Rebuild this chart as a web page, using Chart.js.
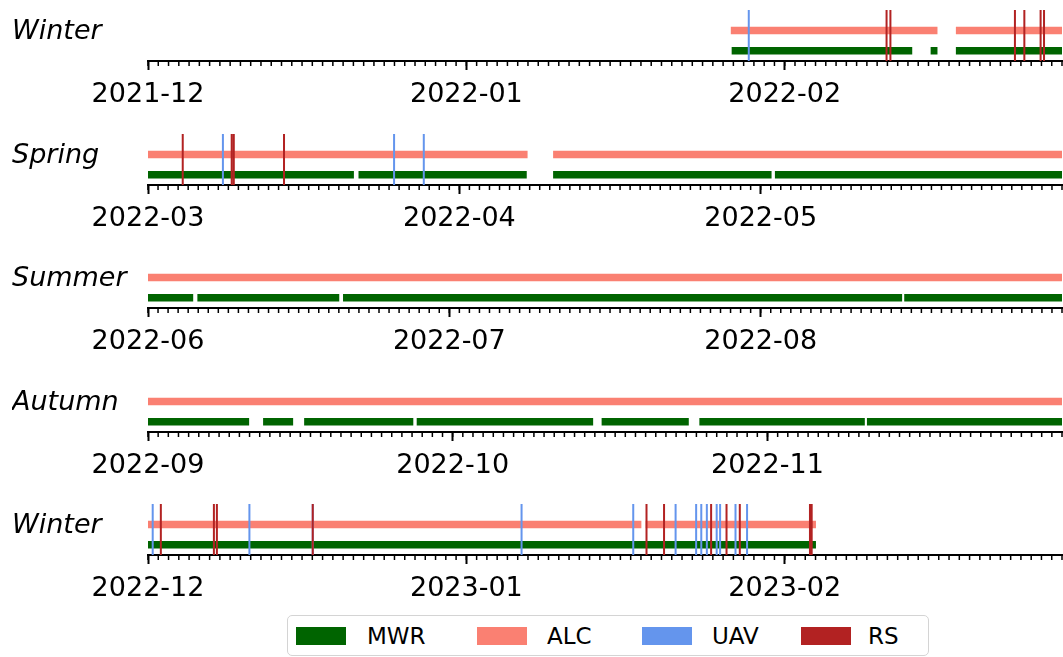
<!DOCTYPE html>
<html>
<head>
<meta charset="utf-8">
<script src="https://cdn.jsdelivr.net/npm/chart.js@4"></script>
<style>
  body { margin: 0; background: #fff; font-family: 'DejaVu Sans', sans-serif; }
  #page { position: relative; width: 1063px; height: 657px; overflow: hidden; }
  #page canvas { position: absolute; left: 0; }
  #legend { position: absolute; left: 287px; top: 615px; width: 640px; height: 39px;
            border: 1.5px solid #d4d4d4; border-radius: 5px; background: #fff; z-index: 2; }
  .patch { position: absolute; top: 11px; width: 50px; height: 18px; }
  .lbl { position: absolute; top: 0; line-height: 41px; font-size: 23px; color: #000; }
</style>
</head>
<body>
<div id="page">
  <canvas id="row0" width="1063" height="123" style="top:0px"></canvas>
  <canvas id="row1" width="1063" height="123" style="top:124px"></canvas>
  <canvas id="row2" width="1063" height="123" style="top:247px"></canvas>
  <canvas id="row3" width="1063" height="123" style="top:371px"></canvas>
  <canvas id="row4" width="1063" height="123" style="top:494px"></canvas>
  <div id="legend">
    <span class="patch" style="left:8px;background:#006400"></span><span class="lbl" style="left:79px">MWR</span>
    <span class="patch" style="left:189px;background:#FA8072"></span><span class="lbl" style="left:259px">ALC</span>
    <span class="patch" style="left:354px;background:#6495ED"></span><span class="lbl" style="left:424px">UAV</span>
    <span class="patch" style="left:513px;background:#B22222"></span><span class="lbl" style="left:580px">RS</span>
  </div>
</div>
<script>
// saisons (une ligne par saison)
const seasonNames = ['Winter', 'Spring', 'Summer', 'Autumn', 'Winter'];
const seasonStart = ['2021-12-01', '2022-03-01', '2022-06-01', '2022-09-01', '2022-12-01'];
const seasonEnd   = ['2022-02-28', '2022-05-31', '2022-08-31', '2022-11-30', '2023-02-28'];
const monthTicks = [
  ['2021-12', '2022-01', '2022-02'],
  ['2022-03', '2022-04', '2022-05'],
  ['2022-06', '2022-07', '2022-08'],
  ['2022-09', '2022-10', '2022-11'],
  ['2022-12', '2023-01', '2023-02']
];

// periodes de mesure [debut, fin] ('YYYY-MM-DD HH')
const mwrRuns = [
  [['2022-01-26 20', '2022-02-13 10'], ['2022-02-15 05', '2022-02-15 21'], ['2022-02-17 16', '2022-02-28 00']],
  [['2022-03-01 00', '2022-03-21 12'], ['2022-03-21 23', '2022-04-07 17'], ['2022-04-10 08', '2022-05-02 02'], ['2022-05-02 10', '2022-05-31 00']],
  [['2022-06-01 00', '2022-06-05 12'], ['2022-06-05 22', '2022-06-20 01'], ['2022-06-20 10', '2022-08-15 02'], ['2022-08-15 07', '2022-08-31 00']],
  [['2022-09-01 00', '2022-09-10 23'], ['2022-09-12 08', '2022-09-15 07'], ['2022-09-16 09', '2022-09-27 03'], ['2022-09-27 11', '2022-10-14 20'],
   ['2022-10-15 16', '2022-10-24 06'], ['2022-10-25 07', '2022-11-10 14'], ['2022-11-10 19', '2022-11-30 00']],
  [['2022-12-01 00', '2023-02-04 01']]
];
const alcRuns = [
  [['2022-01-26 18', '2022-02-15 21'], ['2022-02-17 16', '2022-02-28 00']],
  [['2022-03-01 00', '2022-04-07 19'], ['2022-04-10 08', '2022-05-31 00']],
  [['2022-06-01 00', '2022-08-31 00']],
  [['2022-09-01 00', '2022-11-30 00']],
  [['2022-12-01 00', '2023-01-18 01'], ['2023-01-18 11', '2023-02-04 01']]
];
// lancements ponctuels
const uavFlights = [
  ['2022-01-28 12'],
  ['2022-03-08 11', '2022-03-25 12', '2022-03-28 11'],
  [],
  [],
  ['2022-12-01 11', '2022-12-10 21', '2022-12-17 01', '2023-01-06 09', '2023-01-17 06', '2023-01-21 09', '2023-01-23 09',
   '2023-01-23 21', '2023-01-24 10', '2023-01-25 09', '2023-01-25 17', '2023-01-27 05', '2023-01-28 08']
];
const rsLaunches = [
  ['2022-02-10 22', '2022-02-11 07', '2022-02-23 10', '2022-02-24 08', '2022-02-25 22', '2022-02-26 06'],
  ['2022-03-04 11', '2022-03-09 08', '2022-03-09 13', '2022-03-14 13'],
  [],
  [],
  ['2022-12-02 06', '2022-12-07 10', '2022-12-07 17', '2022-12-17 01', '2023-01-18 13', '2023-01-20 06', '2023-01-24 20',
   '2023-01-26 08', '2023-01-27 15', '2023-02-03 11', '2023-02-03 15']
];

const DAY = 86400000;
const ALC_Y = 0.6, MWR_Y = 0.2, LABEL_Y = 0.57;

Chart.defaults.font.family = "'DejaVu Sans', sans-serif";
Chart.defaults.color = '#000';

// 'YYYY-MM-DD HH' -> ms
function t(s) {
  return Date.UTC(+s.slice(0, 4), +s.slice(5, 7) - 1, +(s.slice(8, 10) || 1), +(s.slice(11, 13) || 0));
}

// segments horizontaux separes par des trous
function runPoints(runs, y) {
  const pts = [];
  runs.forEach(r => {
    pts.push({ x: t(r[0]), y: y }, { x: t(r[1]), y: y }, { x: t(r[1]), y: null });
  });
  return pts;
}

// traits verticaux sur toute la hauteur
function eventPoints(times) {
  const pts = [];
  times.forEach(s => {
    pts.push({ x: t(s), y: 0 }, { x: t(s), y: 1 }, { x: t(s), y: null });
  });
  return pts;
}

// petites graduations journalieres
const minorTicks = {
  id: 'minorTicks',
  afterDraw(chart) {
    const sx = chart.scales.x;
    const ctx = chart.ctx;
    ctx.save();
    ctx.strokeStyle = '#000';
    ctx.lineWidth = 1.5;
    for (let v = sx.min; v <= sx.max + 1; v += DAY) {
      const px = sx.getPixelForValue(v);
      ctx.beginPath();
      ctx.moveTo(px, sx.top);
      ctx.lineTo(px, sx.top + 5);
      ctx.stroke();
    }
    ctx.restore();
  }
};

function lineStyle(color, width, order) {
  return { borderColor: color, backgroundColor: color, borderWidth: width, showLine: true,
           pointRadius: 0, borderCapStyle: 'butt', spanGaps: false, order: order };
}

function makeRow(i) {
  const ctx = document.getElementById('row' + i).getContext('2d');
  const months = monthTicks[i].map(m => t(m + '-01'));
  new Chart(ctx, {
    type: 'scatter',
    data: {
      datasets: [
        { label: 'MWR', data: runPoints(mwrRuns[i], MWR_Y), ...lineStyle('#006400', 7.5, 2) },
        { label: 'ALC', data: runPoints(alcRuns[i], ALC_Y), ...lineStyle('#FA8072', 7.5, 2) },
        { label: 'UAV', data: eventPoints(uavFlights[i]), ...lineStyle('#6495ED', 2, 1) },
        { label: 'RS', data: eventPoints(rsLaunches[i]), ...lineStyle('#B22222', 2, 0) }
      ]
    },
    options: {
      responsive: false,
      animation: false,
      events: [],
      layout: { padding: { left: 12, right: 1, top: 10, bottom: 0 } },
      plugins: { legend: { display: false }, tooltip: { enabled: false } },
      scales: {
        x: {
          type: 'linear',
          min: t(seasonStart[i]),
          max: t(seasonEnd[i]),
          afterBuildTicks: s => { s.ticks = months.map(v => ({ value: v })); },
          afterFit: s => { s.height = 62; },
          grid: { drawOnChartArea: false, tickLength: 9, tickWidth: 2, tickColor: '#000' },
          border: { display: true, color: '#000', width: 2 },
          ticks: {
            font: { size: 27 }, color: '#000', padding: 9, maxRotation: 0, autoSkip: false,
            callback: (v, k) => monthTicks[i][k]
          }
        },
        y: {
          min: 0,
          max: 1,
          afterBuildTicks: s => { s.ticks = [{ value: LABEL_Y }]; },
          afterFit: s => { s.width = 136; s.paddingTop = 0; s.paddingBottom = 0; },
          grid: { display: false },
          border: { display: false },
          ticks: {
            crossAlign: 'far', color: '#000',
            font: { size: 27, style: 'italic' },
            callback: () => seasonNames[i]
          }
        }
      }
    },
    plugins: [minorTicks]
  });
}

for (let i = 0; i < seasonNames.length; i++) makeRow(i);
</script>
</body>
</html>
